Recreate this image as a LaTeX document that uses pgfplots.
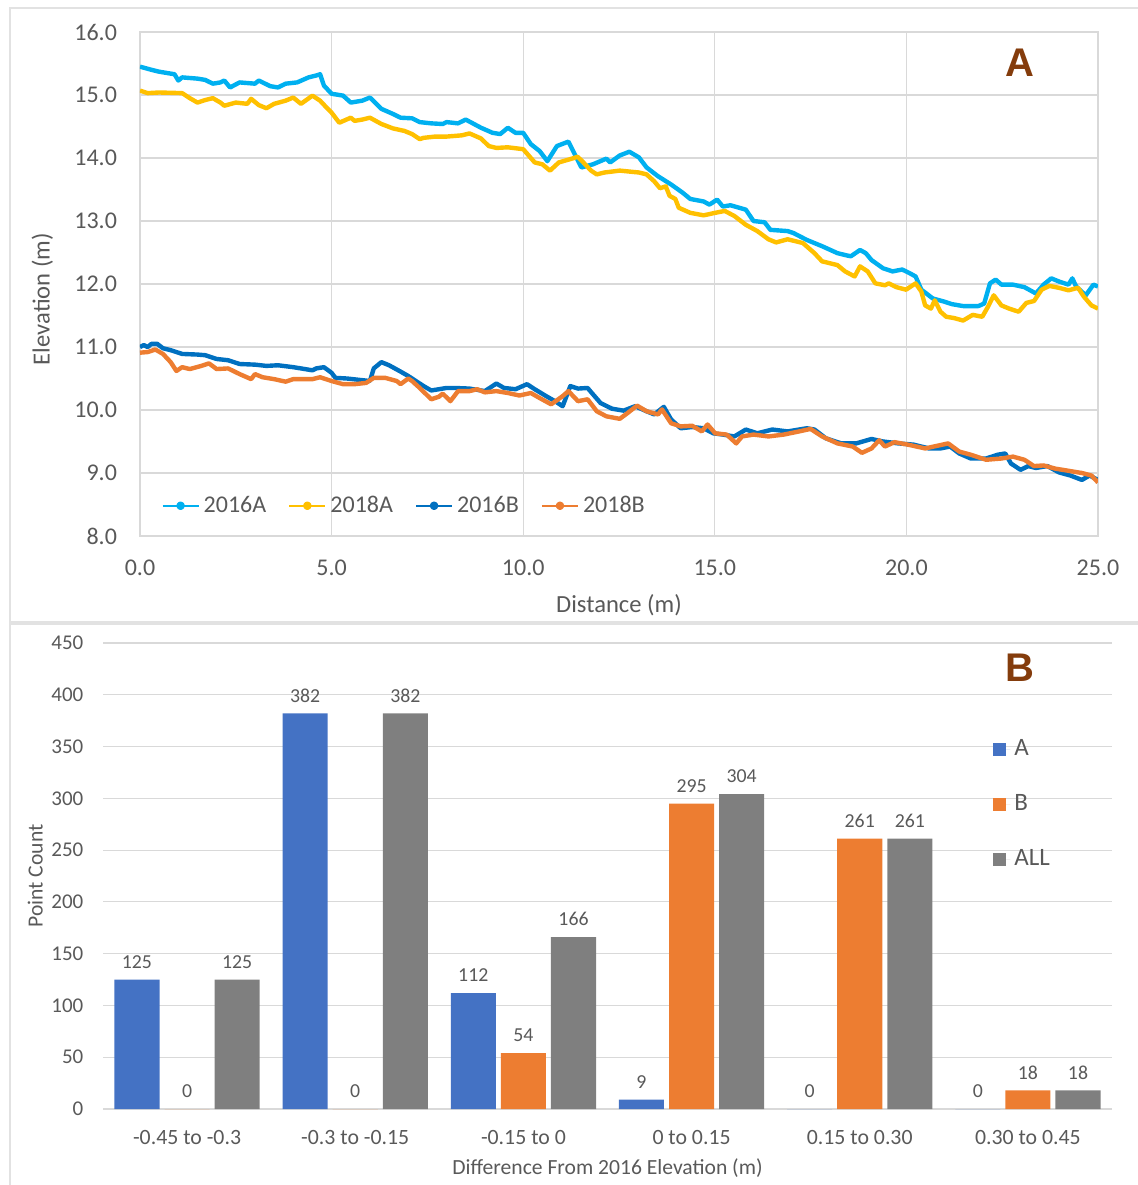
\documentclass[border=0pt]{standalone}
\usepackage{pgfplots}
\pgfplotsset{compat=1.18}
\usepackage{pgfplotstable}
\usepackage{fontspec}
\setmainfont{Carlito}
\newfontfamily\panelfont{Liberation Sans}

\definecolor{txtgray}{HTML}{595959}
\definecolor{gridgray}{HTML}{D9D9D9}
\definecolor{framegray}{HTML}{E2E2E2}
\definecolor{skyblue}{HTML}{00B0F0}
\definecolor{gold}{HTML}{FFC000}
\definecolor{deepblue}{HTML}{0070C0}
\definecolor{orng}{HTML}{ED7D31}
\definecolor{barblue}{HTML}{4472C4}
\definecolor{bargray}{HTML}{7F7F7F}
\definecolor{panelbrown}{HTML}{843C0C}

% elevation profiles: distance (m) vs elevation (m)
\pgfplotstableread{
x y
0 15.45
0.3 15.40
0.5 15.37
0.7 15.35
0.9 15.33
1.0 15.23
1.1 15.28
1.5 15.26
1.7 15.24
1.9 15.18
2.1 15.20
2.2 15.23
2.35 15.12
2.6 15.20
3.0 15.18
3.1 15.23
3.4 15.14
3.6 15.12
3.8 15.18
4.1 15.20
4.4 15.28
4.6 15.31
4.7 15.33
4.8 15.15
5.0 15.02
5.3 14.99
5.5 14.88
5.8 14.91
6.0 14.96
6.3 14.78
6.6 14.70
6.8 14.64
7.1 14.63
7.3 14.57
7.6 14.55
7.9 14.54
8.0 14.57
8.3 14.55
8.5 14.61
8.9 14.48
9.2 14.40
9.4 14.38
9.6 14.48
9.8 14.40
10.0 14.40
10.2 14.22
10.43 14.11
10.63 13.95
10.88 14.19
11.18 14.26
11.42 13.97
11.52 13.85
11.82 13.90
12.17 13.99
12.27 13.93
12.52 14.04
12.77 14.10
13.02 14.01
13.22 13.85
13.52 13.71
13.86 13.58
14.16 13.45
14.36 13.35
14.71 13.31
14.86 13.26
15.06 13.34
15.21 13.23
15.41 13.25
15.81 13.18
16.01 13.00
16.30 12.98
16.45 12.86
16.90 12.84
17.05 12.81
17.40 12.70
17.80 12.60
18.20 12.49
18.40 12.46
18.55 12.44
18.79 12.54
18.94 12.49
19.09 12.38
19.39 12.25
19.64 12.20
19.89 12.23
20.09 12.17
20.24 12.12
20.39 11.91
20.69 11.77
20.99 11.72
21.19 11.68
21.48 11.65
21.88 11.65
22.03 11.69
22.18 12.01
22.33 12.07
22.48 11.99
22.78 11.99
23.08 11.95
23.38 11.85
23.58 11.99
23.78 12.09
23.98 12.04
24.23 11.99
24.33 12.09
24.43 11.96
24.68 11.82
24.88 11.99
25.0 11.96
}\tblAsixteen

\pgfplotstableread{
x y
0 15.07
0.2 15.03
0.5 15.04
1.1 15.03
1.3 14.95
1.5 14.88
1.7 14.92
1.9 14.95
2.1 14.88
2.2 14.83
2.5 14.88
2.8 14.86
2.9 14.94
3.1 14.84
3.3 14.79
3.5 14.86
3.8 14.91
4.0 14.96
4.2 14.86
4.5 14.99
4.7 14.91
4.9 14.78
5.0 14.72
5.2 14.56
5.5 14.64
5.6 14.59
5.8 14.61
6.0 14.64
6.3 14.54
6.6 14.47
6.9 14.43
7.1 14.38
7.3 14.30
7.4 14.32
7.7 14.34
8.0 14.34
8.4 14.36
8.6 14.39
8.9 14.31
9.1 14.19
9.3 14.16
9.6 14.17
10.0 14.14
10.3 13.93
10.5 13.90
10.7 13.80
10.93 13.93
11.27 13.99
11.42 14.02
11.57 13.93
11.77 13.80
11.92 13.74
12.12 13.77
12.52 13.80
13.02 13.77
13.22 13.74
13.42 13.63
13.57 13.52
13.72 13.55
13.82 13.40
13.97 13.35
14.06 13.21
14.36 13.13
14.71 13.09
15.01 13.13
15.26 13.16
15.51 13.08
15.81 12.94
16.11 12.84
16.40 12.71
16.60 12.66
16.90 12.71
17.30 12.65
17.60 12.49
17.80 12.36
18.20 12.30
18.40 12.20
18.65 12.12
18.79 12.28
18.99 12.20
19.19 12.01
19.44 11.98
19.54 12.01
19.74 11.95
19.99 11.91
20.24 12.01
20.39 11.88
20.49 11.66
20.64 11.61
20.74 11.74
20.89 11.56
21.04 11.48
21.24 11.46
21.48 11.42
21.73 11.51
21.98 11.48
22.13 11.64
22.28 11.82
22.48 11.66
22.68 11.61
22.93 11.56
23.13 11.70
23.33 11.73
23.53 11.91
23.73 11.97
23.98 11.94
24.23 11.90
24.48 11.94
24.63 11.80
24.83 11.66
25.0 11.61
}\tblAeighteen

\pgfplotstableread{
x y
0 11.00
0.1 11.03
0.2 11.00
0.3 11.05
0.45 11.05
0.6 10.98
0.8 10.95
1.1 10.89
1.5 10.88
1.7 10.87
2.0 10.81
2.3 10.79
2.6 10.73
3.0 10.72
3.3 10.70
3.6 10.71
4.0 10.68
4.3 10.65
4.5 10.63
4.6 10.66
4.8 10.68
5.0 10.59
5.1 10.51
5.4 10.50
5.7 10.48
6.0 10.46
6.1 10.66
6.3 10.76
6.5 10.71
6.8 10.61
7.0 10.54
7.2 10.46
7.4 10.38
7.6 10.31
7.8 10.33
8.0 10.35
8.2 10.35
8.6 10.34
9.0 10.30
9.3 10.42
9.5 10.35
9.8 10.33
10.1 10.41
10.3 10.33
10.6 10.22
10.83 10.14
11.03 10.06
11.23 10.38
11.43 10.34
11.68 10.35
11.82 10.25
12.02 10.11
12.32 10.02
12.62 9.99
12.92 10.06
13.22 9.98
13.42 9.93
13.67 10.05
13.86 9.85
14.11 9.71
14.41 9.73
14.71 9.71
14.96 9.63
15.21 9.61
15.51 9.58
15.81 9.69
16.11 9.63
16.50 9.69
16.90 9.66
17.40 9.71
17.60 9.69
17.90 9.55
18.30 9.47
18.69 9.47
19.09 9.54
19.39 9.50
19.79 9.47
20.19 9.45
20.59 9.39
20.89 9.39
21.14 9.42
21.38 9.31
21.68 9.23
22.08 9.23
22.38 9.29
22.58 9.31
22.73 9.15
22.98 9.05
23.18 9.11
23.38 9.08
23.68 9.11
23.98 9.01
24.28 8.96
24.58 8.89
24.78 8.96
25.0 8.89
}\tblBsixteen

\pgfplotstableread{
x y
0 10.91
0.2 10.92
0.4 10.96
0.6 10.89
0.8 10.76
0.95 10.62
1.1 10.68
1.3 10.65
1.6 10.70
1.8 10.74
2.0 10.65
2.3 10.66
2.6 10.57
2.9 10.49
3.0 10.57
3.2 10.52
3.5 10.49
3.8 10.45
4.0 10.49
4.5 10.49
4.7 10.52
5.0 10.46
5.3 10.41
5.6 10.41
5.9 10.43
6.1 10.51
6.4 10.51
6.7 10.46
6.8 10.41
7.0 10.50
7.1 10.46
7.3 10.35
7.6 10.17
7.8 10.21
7.9 10.26
8.1 10.14
8.3 10.30
8.6 10.30
8.8 10.33
9.0 10.28
9.3 10.30
9.6 10.27
9.9 10.23
10.2 10.27
10.43 10.19
10.73 10.09
11.03 10.22
11.18 10.30
11.43 10.14
11.68 10.17
11.92 9.98
12.17 9.90
12.52 9.86
12.72 9.95
12.97 10.07
13.22 9.98
13.52 9.93
13.62 10.01
13.86 9.79
14.11 9.74
14.41 9.75
14.66 9.66
14.81 9.77
15.01 9.63
15.31 9.61
15.56 9.47
15.71 9.58
16.01 9.61
16.40 9.58
16.80 9.61
17.20 9.66
17.50 9.70
17.80 9.58
18.20 9.47
18.60 9.42
18.84 9.32
19.09 9.39
19.29 9.52
19.44 9.42
19.69 9.49
20.04 9.45
20.49 9.39
20.79 9.43
21.09 9.47
21.38 9.34
21.68 9.29
22.08 9.21
22.48 9.23
22.78 9.26
23.08 9.21
23.33 9.11
23.58 9.12
23.88 9.07
24.28 9.03
24.58 9.00
24.83 8.96
25.0 8.85
}\tblBeighteen

\begin{document}
\begin{tikzpicture}
\useasboundingbox (0,0) rectangle (569pt,592.5pt);

% ---------------- panel A: elevation profiles ----------------
\begin{axis}[
  at={(70pt,324.5pt)}, anchor=south west,
  scale only axis, width=479pt, height=252pt,
  xmin=0, xmax=25, ymin=8, ymax=16,
  xtick={0,5,10,15,20,25},
  ytick={8,9,10,11,12,13,14,15,16},
  xticklabels={0.0,5.0,10.0,15.0,20.0,25.0},
  yticklabels={8.0,9.0,10.0,11.0,12.0,13.0,14.0,15.0,16.0},
  /pgf/number format/assume math mode=true,
  grid=major, grid style={gridgray, line width=0.6pt},
  axis line style={gridgray, line width=0.6pt},
  major tick length=0pt, tick style={draw=none},
  ticklabel style={font=\fontsize{12}{14}\selectfont, text=txtgray},
  yticklabel style={xshift=-8pt},
  xticklabel style={yshift=-8.5pt},
  xlabel={Distance (m)}, ylabel={Elevation (m)},
  label style={font=\fontsize{12.3}{15}\selectfont, text=txtgray},
  xlabel style={at={(axis description cs:0.5,0)}, anchor=center, yshift=-34.5pt},
  ylabel style={at={(axis description cs:-0.102,0.47)}, anchor=center},
  legend columns=4,
  legend cell align=left,
  legend style={at={(axis description cs:0.022,0.06)}, anchor=west,
    draw=none, fill=none, inner sep=0pt,
    font=\fontsize{12}{14}\selectfont, text=txtgray,
    /tikz/every even column/.append style={column sep=9pt}},
  legend image code/.code={%
    \draw[#1, line width=1.1pt] (0pt,0pt) -- (18pt,0pt);
    \fill[#1] (9pt,0pt) circle (1pt);},
  every axis plot/.append style={line width=2.2pt, line join=round, mark=none},
]
\addplot[skyblue] table[x=x,y=y] {\tblAsixteen};
\addlegendentry{2016A}
\addplot[gold] table[x=x,y=y] {\tblAeighteen};
\addlegendentry{2018A}
\addplot[deepblue] table[x=x,y=y] {\tblBsixteen};
\addlegendentry{2016B}
\addplot[orng] table[x=x,y=y] {\tblBeighteen};
\addlegendentry{2018B}
\node[font=\panelfont\bfseries\fontsize{20}{22}\selectfont, text=panelbrown]
  at (axis cs:22.96,15.52) {A};
\end{axis}

% ---------------- panel B: point counts by elevation change ----------------
\begin{axis}[
  at={(51.5pt,38pt)}, anchor=south west,
  scale only axis, width=504.5pt, height=233pt,
  xmin=-0.5, xmax=5.5, ymin=0, ymax=450,
  ytick={0,50,100,150,200,250,300,350,400,450},
  xtick={0,1,2,3,4,5},
  xticklabels={-0.45 to -0.3,-0.3 to -0.15,-0.15 to 0,0 to 0.15,0.15 to 0.30,0.30 to 0.45},
  /pgf/number format/assume math mode=true,
  ymajorgrids, grid style={gridgray, line width=0.6pt},
  axis x line*=bottom, axis y line*=left,
  x axis line style={gridgray, line width=0.6pt},
  y axis line style={draw=none},
  major tick length=0pt, tick style={draw=none},
  xticklabel style={font=\fontsize{10.9}{13}\selectfont, text=txtgray, yshift=-7pt},
  yticklabel style={font=\fontsize{10.5}{13}\selectfont, text=txtgray, xshift=-6.3pt},
  xlabel={Difference From 2016 Elevation (m)}, ylabel={Point Count},
  label style={font=\fontsize{10.8}{13}\selectfont, text=txtgray},
  xlabel style={at={(axis description cs:0.5,0)}, anchor=center, yshift=-29.5pt},
  ylabel style={at={(axis description cs:-0.067,0.5)}, anchor=center},
  ybar, bar width=0.268,
  nodes near coords,
  nodes near coords style={font=\fontsize{9.9}{12}\selectfont, text=txtgray, yshift=2pt},
  legend cell align=left,
  legend style={at={(axis description cs:0.882,0.654)}, anchor=west,
    draw=none, fill=none, inner sep=0pt, row sep=14pt,
    font=\fontsize{12.5}{14}\selectfont, text=txtgray},
]
\addplot[fill=barblue, draw=none, bar shift=-0.298,
  legend image code/.code={\fill[barblue] (0pt,-3.25pt) rectangle (6.5pt,3.25pt); \path (0pt,0pt) -- (8.5pt,0pt);}]
  coordinates {(0,125) (1,382) (2,112) (3,9) (4,0) (5,0)};
\addlegendentry{A}
\addplot[fill=orng, draw=none, bar shift=0,
  legend image code/.code={\fill[orng] (0pt,-3.25pt) rectangle (6.5pt,3.25pt); \path (0pt,0pt) -- (8.5pt,0pt);}]
  coordinates {(0,0) (1,0) (2,54) (3,295) (4,261) (5,18)};
\addlegendentry{B}
\addplot[fill=bargray, draw=none, bar shift=0.298,
  legend image code/.code={\fill[bargray] (0pt,-3.25pt) rectangle (6.5pt,3.25pt); \path (0pt,0pt) -- (8.5pt,0pt);}]
  coordinates {(0,125) (1,382) (2,166) (3,304) (4,261) (5,18)};
\addlegendentry{ALL}
\node[font=\panelfont\bfseries\fontsize{20}{22}\selectfont, text=panelbrown]
  at (axis cs:4.953,426) {B};
\end{axis}

% panel frame
\draw[framegray, line width=1pt] (5pt,0pt) -- (5pt,588.5pt) -- (569pt,588.5pt);
\draw[framegray, line width=1.6pt] (5pt,281pt) -- (569pt,281pt);
\end{tikzpicture}
\end{document}
